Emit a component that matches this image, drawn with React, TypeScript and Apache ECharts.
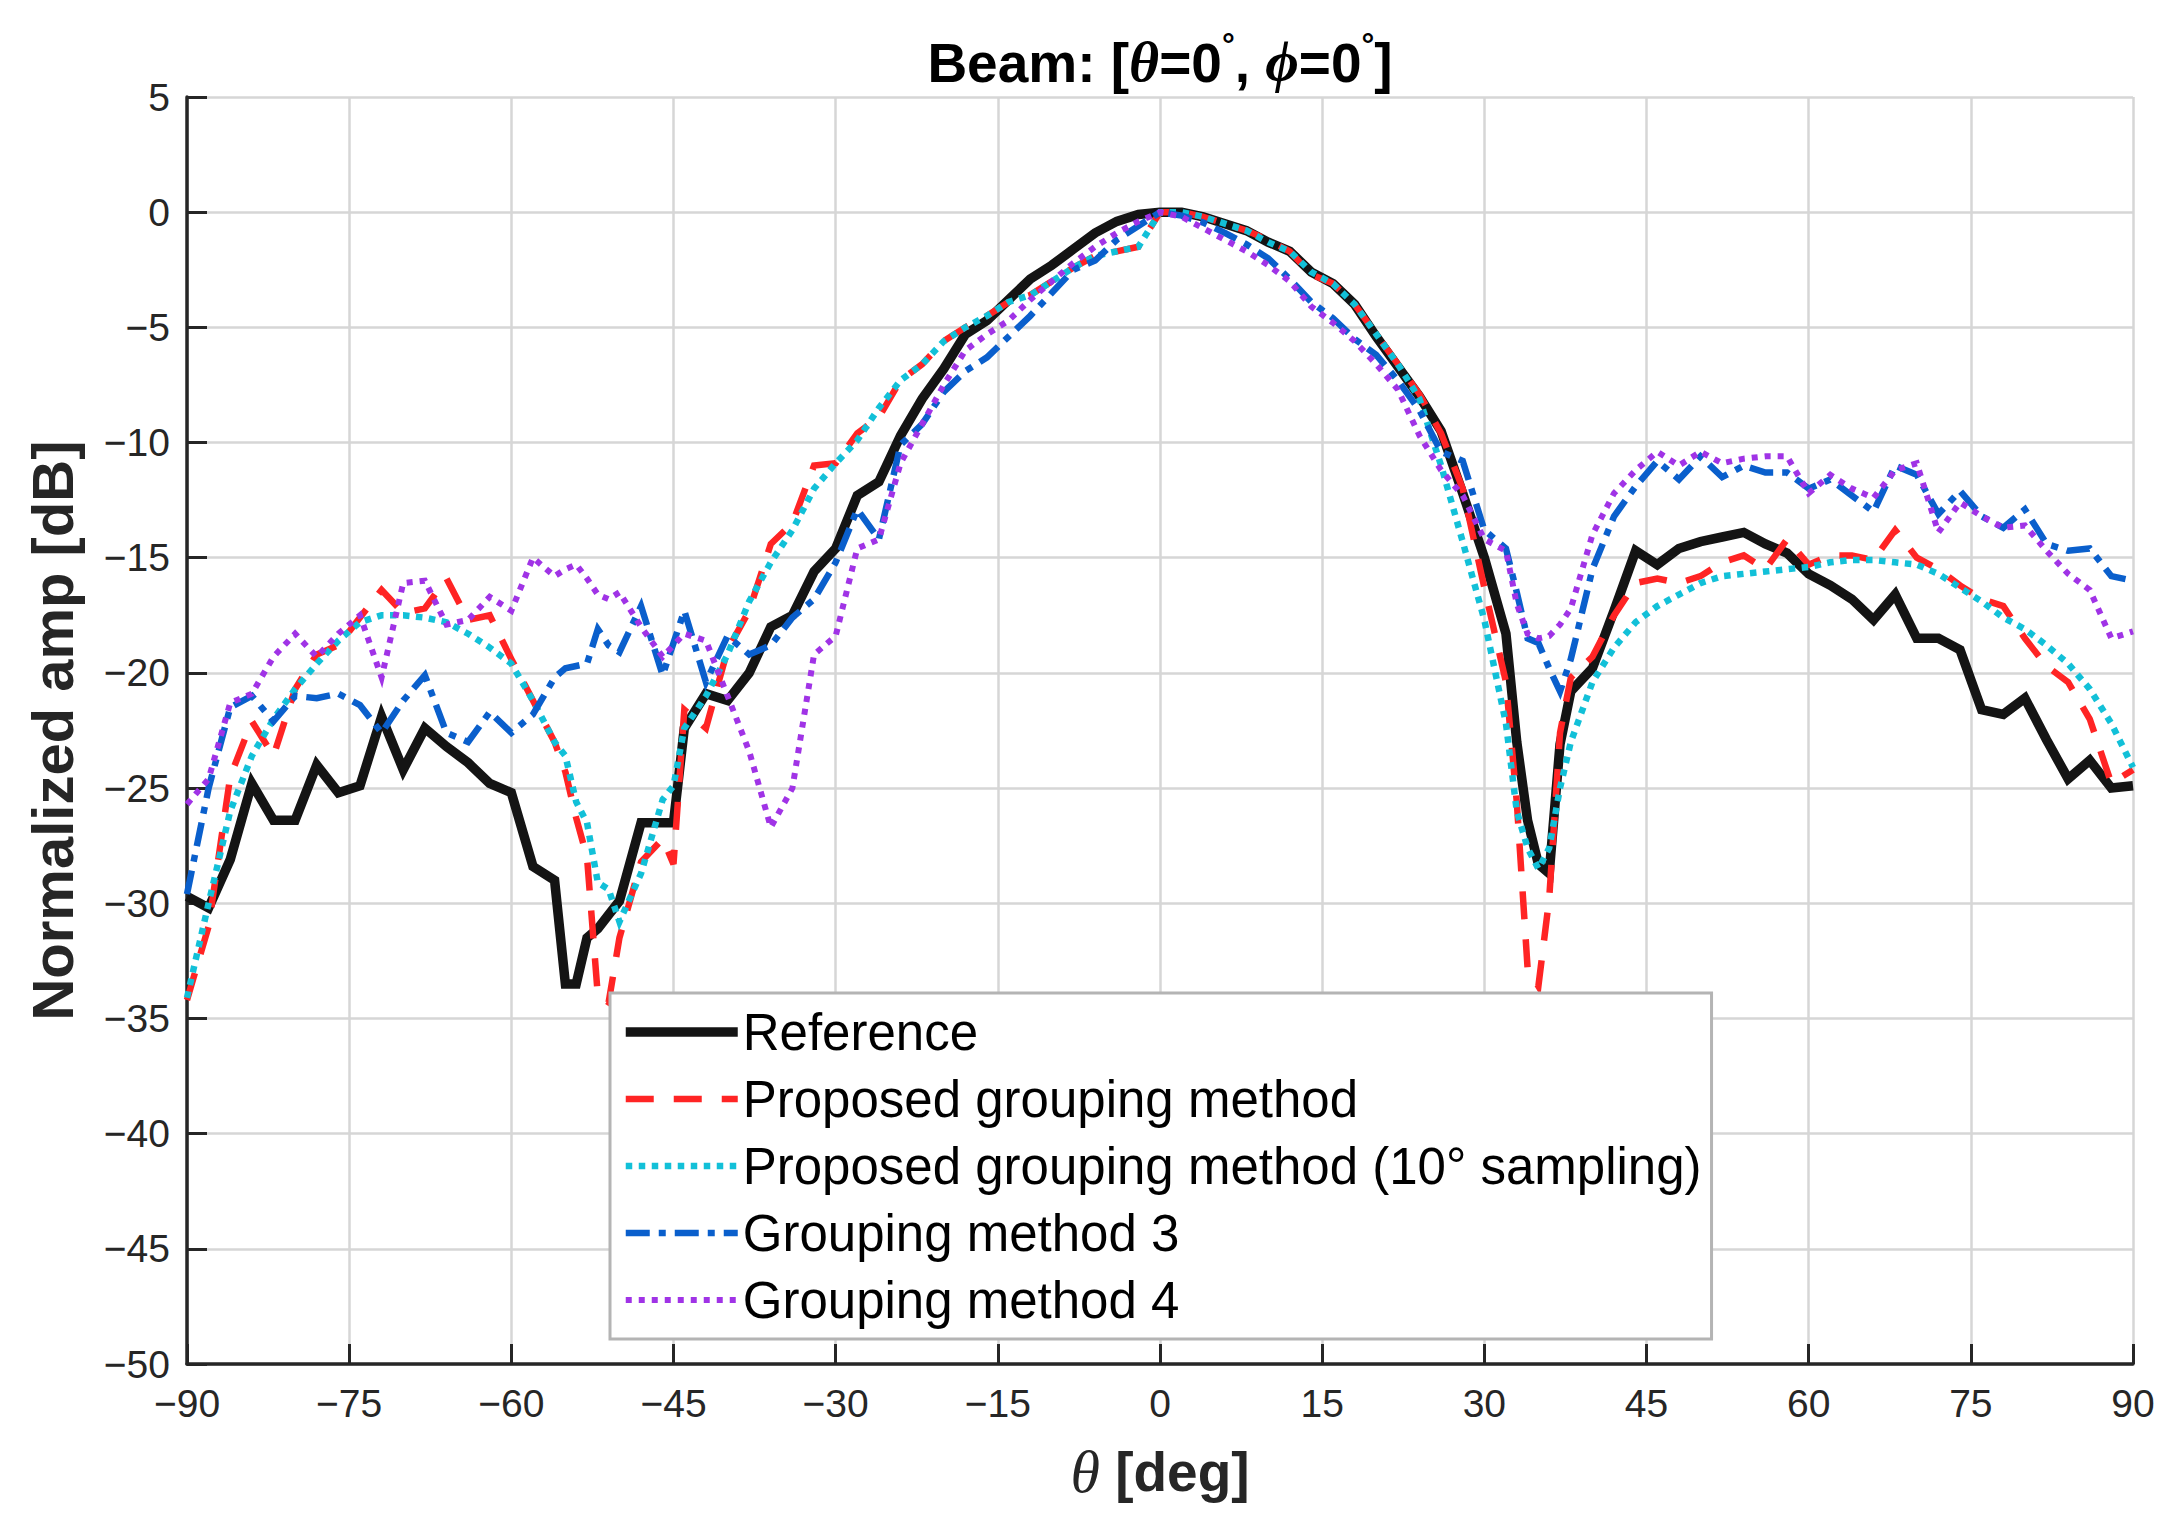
import React, { useEffect, useRef } from "react";
import * as echarts from "echarts";

// sampled angles (deg); a few extra points near the nulls
const theta = [
  -90, -88, -86, -84, -82, -80, -78, -76, -74, -72, -70, -68, -66, -64, -62, -60, -58, -56,
  -55, -54, -53, -52, -51, -50,
  -48, -46, -45, -44,
  -42, -40, -38, -36, -34, -32, -30, -28, -26, -24, -22, -20, -18, -16, -14, -12, -10, -8, -6, -4, -2,
  0, 2, 4, 6, 8, 10, 12, 14, 16, 18, 20, 22, 24, 26, 28, 30, 32,
  33, 34, 35, 36, 37, 38,
  40, 42, 44, 46, 48, 50, 52, 54, 56, 58, 60, 62, 64, 66, 68, 70, 72, 74, 76, 78, 80, 82, 84, 86, 88, 90,
];

const reference = [
  -29.7, -30.2, -28.1, -24.8, -26.4, -26.4, -24.0, -25.2, -24.9, -21.9, -24.2, -22.4, -23.2, -23.9, -24.8, -25.2, -28.4, -29.0,
  -33.5, -33.5, -31.5, -31.1, -30.5, -29.9,
  -26.5, -26.5, -26.5, -22.4,
  -20.9, -21.2, -20.0, -18.0, -17.5, -15.6, -14.6, -12.3, -11.7, -9.7, -8.1, -6.8, -5.3, -4.7, -3.8, -2.9, -2.3, -1.6, -0.9, -0.4, -0.1,
  0, 0, -0.2, -0.5, -0.8, -1.3, -1.7, -2.6, -3.1, -4.0, -5.4, -6.7, -8.0, -9.5, -12.2, -15.0, -18.3,
  -23.0, -26.4, -28.3, -28.7, -23.1, -20.8,
  -19.8, -17.3, -14.7, -15.3, -14.6, -14.3, -14.1, -13.9, -14.4, -14.8, -15.7, -16.2, -16.8, -17.7, -16.6, -18.5, -18.5, -19.0, -21.6, -21.8, -21.1, -22.9, -24.6, -23.8, -25.0, -24.9,
];

const proposed = [
  -34.2, -31.0, -24.5, -22.1, -23.6, -20.7, -19.2, -18.8, -17.6, -16.4, -17.4, -17.2, -15.9, -17.7, -17.5, -19.4, -21.2, -23.0,
  -24.3, -26.3, -28.0, -34.0, -34.3, -31.5,
  -28.2, -27.2, -28.3, -21.6,
  -22.4, -19.0, -17.3, -14.4, -13.5, -11.0, -10.9, -9.6, -8.9, -7.3, -6.6, -5.6, -5.0, -4.5, -3.9, -3.6, -3.0, -2.4, -1.9, -1.7, -1.5,
  0, 0, -0.2, -0.5, -0.8, -1.2, -1.7, -2.7, -3.1, -4.0, -5.3, -6.6, -7.9, -9.6, -12.0, -16.3, -20.4,
  -25.6, -32.8, -33.6, -29.8, -22.6, -20.2,
  -19.3, -17.5, -16.1, -15.9, -16.1, -15.8, -15.2, -14.9, -15.5, -14.2, -15.3, -14.9, -14.9, -15.1, -13.8, -15.0, -15.5, -16.2, -16.8, -17.1, -18.5, -19.7, -20.4, -22.0, -24.8, -24.2,
];

const proposed10 = [
  -34.1, -30.0, -26.0, -23.6, -22.0, -20.7, -19.6, -18.6, -17.8, -17.5, -17.5, -17.6, -17.8, -18.3, -18.9, -19.6, -21.2, -23.0,
  -23.6, -25.6, -26.5, -29.1, -29.4, -30.8,
  -28.7, -25.5, -24.9, -22.4,
  -21.0, -19.2, -16.9, -15.2, -13.8, -12.0, -10.9, -9.9, -8.5, -7.3, -6.6, -5.6, -5.0, -4.5, -3.9, -3.6, -3.0, -2.4, -1.9, -1.7, -1.5,
  0, 0, -0.2, -0.5, -0.8, -1.3, -1.7, -2.6, -3.1, -4.0, -5.3, -6.6, -8.1, -11.0, -14.3, -17.7, -22.2,
  -26.0, -27.6, -28.5, -27.6, -25.0, -23.0,
  -20.4, -18.9, -17.8, -17.1, -16.6, -16.1, -15.8, -15.7, -15.6, -15.5, -15.4, -15.2, -15.1, -15.1, -15.2, -15.3, -15.7, -16.3, -16.9, -17.6, -18.1, -18.8, -19.6, -20.7, -22.2, -24.1,
];

const method3 = [
  -29.6, -25.0, -21.5, -21.0, -22.1, -21.0, -21.1, -20.9, -21.4, -22.6, -21.2, -20.1, -22.6, -23.0, -21.7, -22.6, -21.8, -20.2,
  -19.8, -19.7, -19.6, -18.1, -18.8, -19.1,
  -17.1, -20.1, -18.7, -17.3,
  -20.4, -18.4, -19.2, -18.8, -17.6, -16.8, -15.2, -12.9, -14.2, -10.1, -9.2, -7.8, -6.9, -6.3, -5.4, -4.5, -3.5, -2.5, -2.1, -1.2, -0.6,
  0, -0.15, -0.45, -0.9, -1.4, -2.0, -2.9, -3.9, -4.6, -5.5, -6.2, -7.3, -8.6, -10.4, -10.8, -13.8, -14.6,
  -16.5, -18.5, -18.7, -19.8, -20.8, -19.4,
  -15.5, -13.2, -11.9, -10.8, -11.6, -10.6, -11.5, -11.0, -11.3, -11.3, -12.0, -11.6, -12.3, -13.0, -11.0, -11.4, -13.1, -12.1, -13.2, -13.7, -12.9, -14.4, -14.7, -14.6, -15.8, -16.0,
];

const method4 = [
  -25.7, -24.6, -21.3, -20.9, -19.3, -18.3, -19.3, -18.3, -17.5, -20.2, -16.1, -16.0, -17.9, -17.7, -16.7, -17.3, -15.0, -15.8,
  -15.5, -15.3, -15.9, -16.6, -16.8, -16.5,
  -18.0, -19.3, -18.8, -18.3,
  -18.6, -21.0, -23.4, -26.7, -25.0, -19.2, -18.4, -14.6, -14.2, -10.9, -9.2, -7.5, -6.0, -5.3, -4.7, -3.8, -3.0, -2.2, -1.5, -0.9, -0.4,
  0, -0.2, -0.7, -1.2, -1.7, -2.3, -3.0, -4.1, -4.8, -5.6, -6.6, -7.7, -9.7, -11.2, -12.3, -14.2, -14.7,
  -17.0, -18.3, -18.5, -18.4, -17.9, -17.2,
  -14.0, -12.2, -11.2, -10.4, -11.0, -10.4, -10.9, -10.7, -10.6, -10.6, -12.2, -11.4, -12.0, -12.4, -11.2, -10.9, -13.9, -12.6, -13.2, -13.7, -13.6, -14.7, -15.7, -16.4, -18.5, -18.2,
];

const seriesNames = [
  "Reference",
  "Proposed grouping method",
  "Proposed grouping method (10° sampling)",
  "Grouping method 3",
  "Grouping method 4",
];

const xTicks = { min: -90, max: 90, step: 15 };
const yTicks = { min: -50, max: 5, step: 5 };

const pairs = (ys: number[]) => ys.map((y, i) => [theta[i], y]);
const minus = (v: number) => (v < 0 ? "\u2212" + Math.abs(v) : String(v));

const SANS = "'Liberation Sans', Arial, Helvetica, sans-serif";
const SERIF = "'Liberation Serif', 'DejaVu Serif', serif";

const App: React.FC = () => {
  const chartRef = useRef<HTMLDivElement>(null);

  useEffect(() => {
    document.body.style.margin = "0";
    if (!chartRef.current) return;
    const chart = echarts.init(chartRef.current, undefined, { renderer: "svg" });

    const lineSeries = (name: string, data: number[], color: string, width: number, type: any) => ({
      name,
      type: "line",
      data: pairs(data),
      symbol: "none",
      showSymbol: false,
      itemStyle: { color },
      lineStyle: { color, width, type, cap: "butt", join: "miter" },
      emphasis: { disabled: true },
    });

    const option: any = {
      animation: false,
      backgroundColor: "#ffffff",
      title: {
        text: "{b|Beam: [}{i|θ}{b|=0}{d|°}{b|, }{i|ϕ}{b|=0}{d|°}{b|]}",
        left: 1160,
        top: 28,
        padding: 0,
        textAlign: "center",
        textStyle: {
          rich: {
            b: { fontFamily: SANS, fontWeight: "bold", fontSize: 55, color: "#000", lineHeight: 62, verticalAlign: "bottom" },
            i: { fontFamily: SERIF, fontStyle: "italic", fontSize: 58, color: "#000", lineHeight: 62, verticalAlign: "bottom" },
            d: { fontFamily: SANS, fontSize: 32, color: "#000", lineHeight: 62, verticalAlign: "top" },
          },
        },
      },
      grid: { left: 187, right: 43, top: 97, bottom: 166, containLabel: false },
      legend: {
        orient: "vertical",
        left: 610,
        top: 993,
        padding: [13, 10, 13, 11],
        itemWidth: 112,
        itemHeight: 20,
        itemGap: 15,
        backgroundColor: "#ffffff",
        borderColor: "#b4b4b4",
        borderWidth: 3,
        borderRadius: 0,
        itemStyle: { color: "rgba(0,0,0,0)", borderWidth: 0, opacity: 0 },
        lineStyle: { width: "inherit", type: "inherit", cap: "butt" },
        textStyle: { fontFamily: SANS, fontSize: 51, lineHeight: 52, color: "#000" },
        data: seriesNames,
      },
      xAxis: {
        type: "value",
        min: xTicks.min,
        max: xTicks.max,
        interval: xTicks.step,
        name: "{i|θ}{b| [deg]}",
        nameLocation: "middle",
        nameGap: 78,
        nameTextStyle: {
          rich: {
            i: { fontFamily: SERIF, fontStyle: "italic", fontSize: 60, color: "#262626" },
            b: { fontFamily: SANS, fontWeight: "bold", fontSize: 55, color: "#262626" },
          },
        },
        axisLine: { show: true, onZero: false, lineStyle: { color: "#262626", width: 3.5 } },
        axisTick: { show: true, inside: true, length: 20, lineStyle: { color: "#262626", width: 3 } },
        axisLabel: { fontFamily: SANS, fontSize: 39, color: "#262626", margin: 20, formatter: minus },
        splitLine: { show: true, lineStyle: { color: "#d6d6d6", width: 2.5 } },
      },
      yAxis: {
        type: "value",
        min: yTicks.min,
        max: yTicks.max,
        interval: yTicks.step,
        name: "Normalized amp [dB]",
        nameLocation: "middle",
        nameGap: 106,
        nameTextStyle: { fontFamily: SANS, fontWeight: "bold", fontSize: 58, color: "#262626" },
        axisLine: { show: true, onZero: false, lineStyle: { color: "#262626", width: 3.5 } },
        axisTick: { show: true, inside: true, length: 20, lineStyle: { color: "#262626", width: 3 } },
        axisLabel: { fontFamily: SANS, fontSize: 39, color: "#262626", margin: 17, formatter: minus },
        splitLine: { show: true, lineStyle: { color: "#d6d6d6", width: 2.5 } },
      },
      series: [
        lineSeries(seriesNames[0], reference, "#141414", 9.5, "solid"),
        lineSeries(seriesNames[1], proposed, "#ff2424", 6.5, [28, 20]),
        lineSeries(seriesNames[2], proposed10, "#12c0d8", 6.5, [6.5, 6.5]),
        lineSeries(seriesNames[3], method3, "#0a5fcc", 6.5, [24, 9, 7, 9]),
        lineSeries(seriesNames[4], method4, "#a033e6", 6, [6, 7]),
      ],
    };

    chart.setOption(option);
    return () => chart.dispose();
  }, []);

  return <div ref={chartRef} style={{ width: 2176, height: 1530 }} />;
};

export default App;
